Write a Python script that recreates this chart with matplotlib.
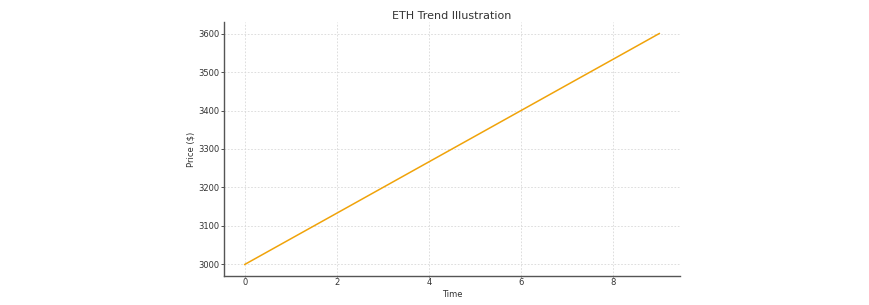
import matplotlib
matplotlib.use("Agg")
import matplotlib.pyplot as plt

time = [0, 1, 2, 3, 4, 5, 6, 7, 8, 9]
price = [3000, 3066.7, 3133.3, 3200, 3266.7, 3333.3, 3400, 3466.7, 3533.3, 3600]

fig = plt.figure(figsize=(8.69, 3.05), dpi=100)
ax = fig.add_axes([0.2578, 0.0951, 0.5247, 0.8328])

ax.plot(time, price, color="#f0a30a", linewidth=1.1)

ax.set_title("ETH Trend Illustration", fontsize=8, color="#333333", pad=2.5)
ax.set_xlabel("Time", fontsize=6, color="#333333", labelpad=2)
ax.set_ylabel("Price ($)", fontsize=6, color="#333333", labelpad=1.5)

ax.set_xticks([0, 2, 4, 6, 8])
ax.set_yticks([3000, 3100, 3200, 3300, 3400, 3500, 3600])
ax.set_xlim(-0.45, 9.45)
ax.set_ylim(2970, 3630)
ax.tick_params(labelsize=6, colors="#333333", width=0.6)
ax.tick_params(axis="y", length=2, pad=1.5)
ax.tick_params(axis="x", length=1, pad=0.5)

ax.grid(True, linestyle=(0, (2, 2)), linewidth=0.6, color="#d8d8d8")
for side in ["top", "right"]:
    ax.spines[side].set_visible(False)
for side in ["left", "bottom"]:
    ax.spines[side].set_color("#555555")
    ax.spines[side].set_linewidth(1.0)

fig.savefig("out.png", dpi=100)
